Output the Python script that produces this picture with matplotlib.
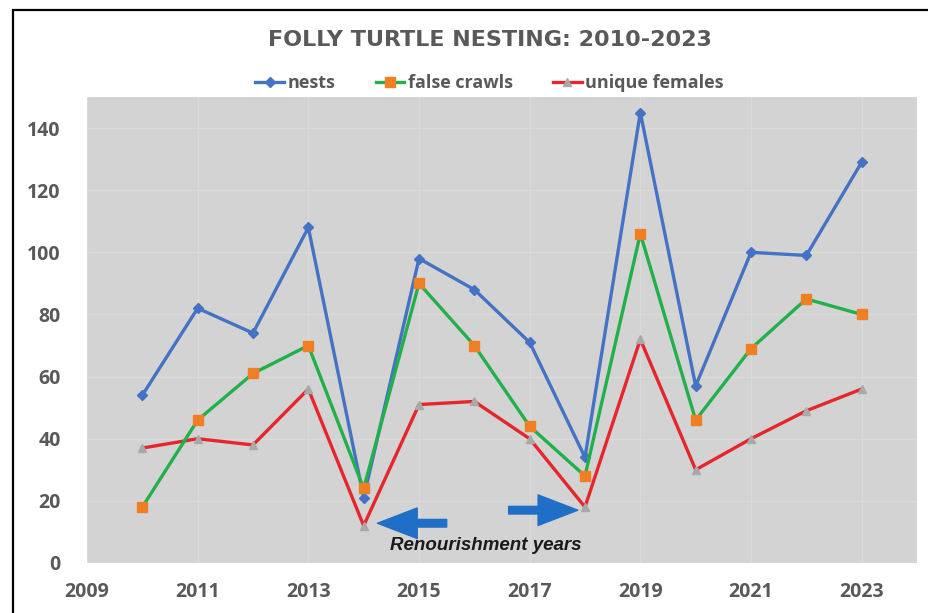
import matplotlib.pyplot as plt
from matplotlib.patches import Rectangle
from matplotlib.lines import Line2D

# data
years = [2010, 2011, 2012, 2013, 2014, 2015, 2016, 2017, 2018, 2019, 2020, 2021, 2022, 2023]
nests = [54, 82, 74, 108, 21, 98, 88, 71, 34, 145, 57, 100, 99, 129]
false_crawls = [18, 46, 61, 70, 24, 90, 70, 44, 28, 106, 46, 69, 85, 80]
unique_females = [37, 40, 38, 56, 12, 51, 52, 40, 18, 72, 30, 40, 49, 56]
x_ticks = [2009, 2011, 2013, 2015, 2017, 2019, 2021, 2023]
y_ticks = [0, 20, 40, 60, 80, 100, 120, 140]

# arrows marking the renourishment years
left_arrow = ((2015.50, 12.8), (2014.25, 12.8))   # (tail, tip)
right_arrow = ((2016.62, 17.0), (2017.87, 17.0))
note_pos = (2016.2, 5.6)

tick_color = '#595959'
bold_font = ['Open Sans', 'DejaVu Sans']

fig = plt.figure(figsize=(9.29, 6.13), dpi=100)
ax = fig.add_axes([87/929, 50/613, 830/929, 466/613])
ax.set_facecolor('#d3d3d3')

ax.plot(years, nests, color='#4472c4', lw=2.4, marker='D', ms=5,
        mfc='#4472c4', mec='#4472c4', label='nests', zorder=3)
ax.plot(years, false_crawls, color='#22b04b', lw=2.4, marker='s', ms=7,
        mfc='#f07f23', mec='#f07f23', label='false crawls', zorder=4)
ax.plot(years, unique_females, color='#e5262b', lw=2.4, marker='^', ms=6,
        mfc='#a9a9a9', mec='#a9a9a9', label='unique females', zorder=2)

ax.set_xlim(2009, 2024)
ax.set_ylim(0, 150)
ax.set_xticks(x_ticks)
ax.set_yticks(y_ticks)
ax.grid(True, color='#dadada', lw=1)
ax.set_axisbelow(True)
ax.tick_params(length=0, labelcolor=tick_color, labelsize=14)
ax.tick_params(axis='x', pad=14)
ax.tick_params(axis='y', pad=19)
for lab in ax.get_xticklabels() + ax.get_yticklabels():
    lab.set_family(bold_font)
    lab.set_fontweight('bold')
for s in ax.spines.values():
    s.set_visible(False)

for tail, tip in [left_arrow, right_arrow]:
    ax.annotate('', xy=tip, xytext=tail,
                arrowprops=dict(arrowstyle='simple,head_length=1.3,head_width=1.0,tail_width=0.25',
                                mutation_scale=22, color='#1f6fc6', shrinkA=0, shrinkB=0),
                zorder=5)
ax.text(note_pos[0], note_pos[1], 'Renourishment years', ha='center', va='center',
        fontsize=13.5, fontweight='bold', style='italic', color='#1a1a1a',
        family=['Liberation Sans', 'DejaVu Sans'])

fig.text(0.527, 1 - 40/613, 'FOLLY TURTLE NESTING: 2010-2023', ha='center', va='center',
         fontsize=16, fontweight='bold', color=tick_color, family=['DejaVu Sans'])

handles = [
    Line2D([], [], color='#4472c4', lw=2.4, marker='D', ms=5, mfc='#4472c4', mec='#4472c4'),
    Line2D([], [], color='#22b04b', lw=2.4, marker='s', ms=7, mfc='#f07f23', mec='#f07f23'),
    Line2D([], [], color='#e5262b', lw=2.4, marker='^', ms=6, mfc='#a9a9a9', mec='#a9a9a9'),
]
leg = fig.legend(handles, ['nests', 'false crawls', 'unique females'], loc='center',
                 bbox_to_anchor=(0.527, 1 - 83/613), ncol=3, frameon=False,
                 handlelength=1.6, handletextpad=0.2, columnspacing=2.2,
                 prop=dict(family=bold_font, weight='bold', size=13))
for t in leg.get_texts():
    t.set_color(tick_color)

# black frame around the chart (runs off the right and bottom edges)
fig.patches.append(Rectangle((13/929, -0.2), 1.2, 1 - 10/613 + 0.2, transform=fig.transFigure,
                             fill=False, ec='black', lw=1.6))

fig.savefig('out.png', dpi=100)
